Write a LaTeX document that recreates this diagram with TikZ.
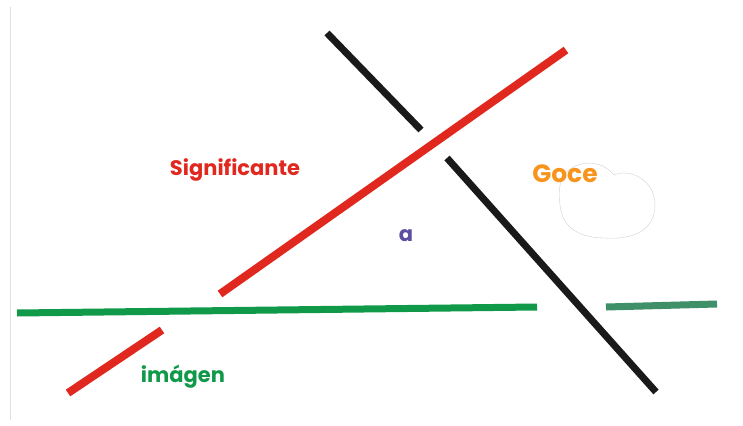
\documentclass[tikz,border=0pt]{standalone}
\usepackage{fontspec}
\setmainfont{Poppins}
\begin{document}
\begin{tikzpicture}[x=1pt,y=-1pt,
  bar/.style={line width=7pt},
  lbl/.style={font=\fontsize{21}{21}\selectfont\bfseries, inner sep=0pt}]
\definecolor{cred}{HTML}{E0281F}
\definecolor{cblack}{HTML}{1A1A1A}
\definecolor{cgreen}{HTML}{11994A}
\definecolor{cteal}{HTML}{3F8F68}
\definecolor{corange}{HTML}{F7941D}
\definecolor{cpurple}{HTML}{5B4EA0}
\useasboundingbox[fill=white] (0,0) rectangle (743,425);
% faint frame line
\draw[gray!25, line width=0.6pt] (10,7) -- (10,420);
% cloud outline
\draw[gray!35, line width=0.4pt] (563,176) .. controls (575,160) and (600,158) .. (614,175)
  .. controls (630,168) and (655,180) .. (655,205)
  .. controls (655,232) and (630,240) .. (605,238)
  .. controls (580,238) and (562,228) .. (560,205)
  .. controls (558,192) and (560,182) .. (563,176);
% lines
\draw[bar, cblack] (327,33) -- (421,130);
\draw[bar, cblack] (447,158) -- (656,392);
\draw[bar, cred, line width=8pt] (220,294) -- (566,50);
\draw[bar, cred, line width=8pt] (68,393) -- (162,330);
\draw[bar, cgreen] (17,313) -- (537,307);
\draw[bar, cteal] (606,307) -- (717,304);
% labels
\node[lbl, text=cred] (sig) at (235,170) {Significante};
\node[lbl, text=corange, font=\fontsize{25}{25}\selectfont\bfseries] (goce) at (565,174) {Goce};
\node[lbl, text=cpurple] (a) at (406,236) {a};
\node[lbl, text=cgreen] (img) at (183,377) {imágen};
\end{tikzpicture}
\end{document}
